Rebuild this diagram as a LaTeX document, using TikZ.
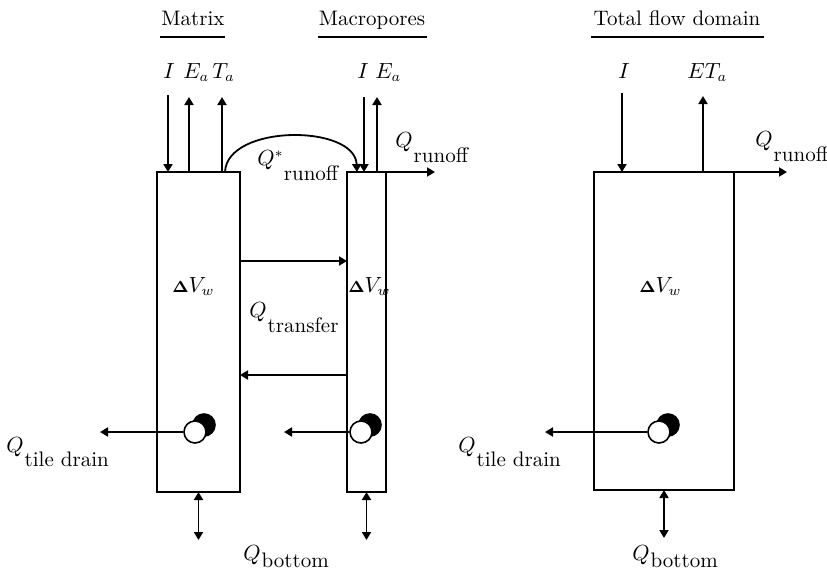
\documentclass[tikz,border=0pt]{standalone}
\usepackage{amsmath,amssymb,amsfonts}
\usepackage{tikz}
\usetikzlibrary{arrows.meta}

\newcommand{\qflux}[3][]{$Q^{#1}$\raisebox{-#2}{#3}}
\newcommand{\dvw}{{\footnotesize$\boldsymbol{\Delta}$}$V_w$}

\tikzset{
  box/.style={draw, line width=0.9pt, inner sep=0pt, outer sep=0pt},
  flow/.style={line width=0.9pt, -{Triangle[length=4pt,width=4.5pt]}},
  twoway/.style={line width=0.9pt, {Triangle[length=4pt,width=4.5pt]}-{Triangle[length=4pt,width=4.5pt]}},
  lab/.style={inner sep=0pt, anchor=base west},
  head/.style={inner sep=0pt, anchor=base},
  drain/.style={circle, draw, fill=white, line width=0.8pt, minimum size=11pt, inner sep=0pt},
}

\begin{document}
\begin{tikzpicture}[x=0.5pt, y=-0.5pt, font=\fontsize{10.5pt}{12.6pt}\selectfont]
  % canvas in pixel units of the original figure
  \useasboundingbox (0,0) rectangle (827,574);

  % the three storage boxes
  \node[box, minimum width=41.5pt, minimum height=160pt] (mat) at (198.5,332) {};
  \node[box, minimum width=19.5pt, minimum height=160pt] (mac) at (366.5,332) {};
  \node[box, minimum width=70pt, minimum height=159pt] (tot) at (664,331) {};

  % headings
  \node[head] (hmat) at (193,25) {Matrix};
  \node[head] (hmac) at (372,25) {Macropores};
  \node[head] (htot) at (677,25) {Total flow domain};
  \draw[line width=0.8pt] (160,37) -- (225,37);
  \draw[line width=0.8pt] (318,37) -- (427,37);
  \draw[line width=0.8pt] (591,37) -- (764,37);

  % top fluxes
  \node[lab] (lImat) at (163,78) {$I$};
  \node[lab] (lEmat) at (183,78) {$E_a$};
  \node[lab] (lTmat) at (212,78) {$T_a$};
  \node[lab] (lImac) at (357,78) {$I$};
  \node[lab] (lEmac) at (375,78) {$E_a$};
  \node[lab] (lItot) at (618,78) {$I$};
  \node[lab] (lETtot) at (687,78) {$ET_a$};

  \coordinate (aImat) at (168,95);
  \coordinate (aEmat) at (189,97);
  \coordinate (aTmat) at (222,97);
  \coordinate (aImac) at (364,97);
  \coordinate (aEmac) at (377,97);
  \coordinate (aItot) at (622,93);
  \coordinate (aETtot) at (703,96);
  \draw[flow] (aImat) -- (aImat |- mat.north);
  \draw[flow] (aEmat |- mat.north) -- (aEmat);
  \draw[flow] (aTmat |- mat.north) -- (aTmat);
  \draw[flow] (aImac) -- (aImac |- mac.north);
  \draw[flow] (aEmac |- mac.north) -- (aEmac);
  \draw[flow] (aItot) -- (aItot |- tot.north);
  \draw[flow] (aETtot |- tot.north) -- (aETtot);

  % runoff
  \coordinate (qa) at (225,172);
  \coordinate (qb) at (357,172);
  \draw[flow] (qa) .. controls (227,124) and (355,124) .. (qb);
  \node[lab] (qstar) at (257,165) {\qflux[*]{7.5pt}{runoff}};

  \coordinate (rmac) at (435,172);
  \coordinate (rtot) at (787,172);
  \draw[flow] (mac.north east) -- (rmac);
  \draw[flow] (tot.north east) -- (rtot);
  \node[lab] (qrmac) at (395,147) {\qflux{7.5pt}{runoff}};
  \node[lab] (qrtot) at (755,146) {\qflux{7.5pt}{runoff}};

  % exchange between matrix and macropores
  \coordinate (tin) at (0,261);
  \coordinate (tout) at (0,375);
  \draw[flow] (mat.east |- tin) -- (mac.west |- tin);
  \draw[flow] (mac.west |- tout) -- (mat.east |- tout);
  \node[lab] (qtr) at (249,317) {\qflux{7.5pt}{transfer}};

  % storage change
  \node[lab] (vmat) at (172,292) {\dvw};
  \node[lab] (vmac) at (348,292) {\dvw};
  \node[lab] (vtot) at (639,292) {\dvw};

  % tile drains
  \foreach \n/\x in {mat/195, mac/361, tot/659} {
    \node[drain, fill=black] (k\n) at (\x+9,425) {};
    \node[drain] (d\n) at (\x,432) {};
  }
  \coordinate (tmat) at (100,432);
  \coordinate (tmac) at (284,432);
  \coordinate (ttot) at (545,432);
  \draw[flow] (dmat) -- (tmat);
  \draw[flow] (dmac) -- (tmac);
  \draw[flow] (dtot) -- (ttot);
  \node[lab] (qdmat) at (6,452) {\qflux{7pt}{tile drain}};
  \node[lab] (qdtot) at (458,452) {\qflux{7pt}{tile drain}};

  % bottom flux
  \coordinate (bmat) at (198.5,540);
  \coordinate (bmac) at (366.5,540);
  \coordinate (btot) at (664,538);
  \draw[twoway] (mat.south) -- (bmat);
  \draw[twoway] (mac.south) -- (bmac);
  \draw[twoway] (tot.south) -- (btot);
  \node[lab] (qbmat) at (243,560) {\qflux{3.5pt}{bottom}};
  \node[lab] (qbtot) at (632,560) {\qflux{3.5pt}{bottom}};
\end{tikzpicture}
\end{document}
